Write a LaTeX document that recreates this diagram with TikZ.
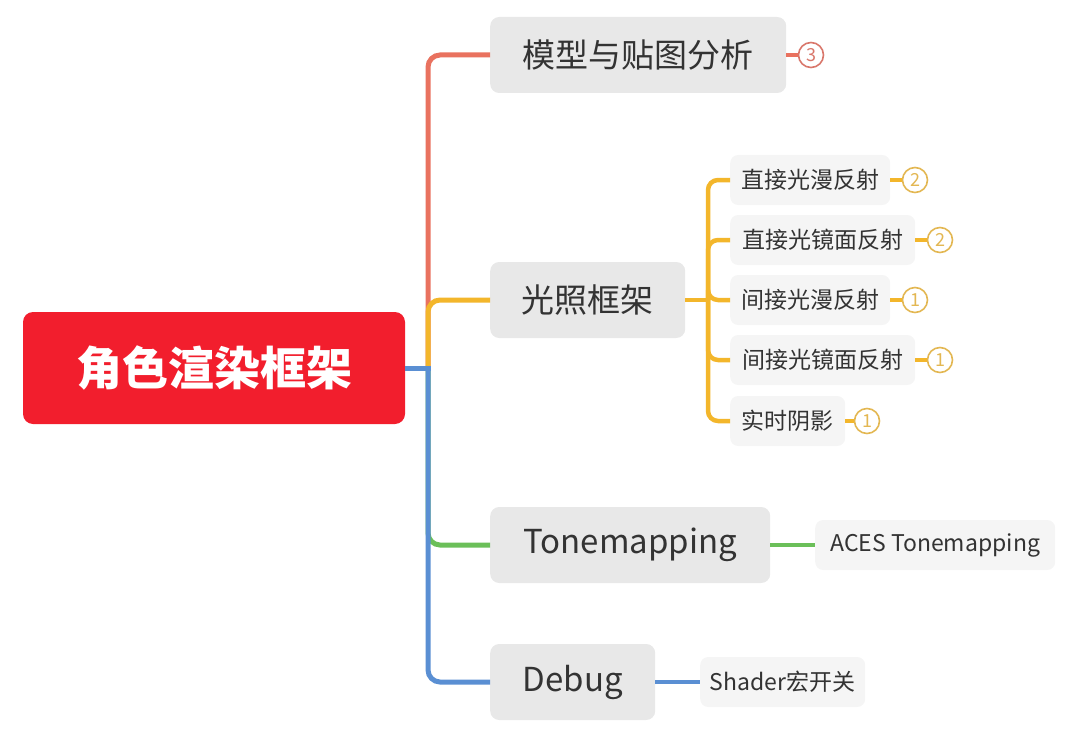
\documentclass[tikz,border=0pt]{standalone}
\usepackage{fontspec}
\setmainfont{Noto Sans CJK SC}
\usetikzlibrary{positioning}
\definecolor{rootred}{HTML}{F21E2D}
\definecolor{boxgray}{HTML}{E8E8E8}
\definecolor{subgray}{HTML}{F5F5F5}
\definecolor{textgray}{HTML}{333333}
\definecolor{linered}{HTML}{E9725F}
\definecolor{lineyellow}{HTML}{F3B62B}
\definecolor{linegreen}{HTML}{6BBF59}
\definecolor{lineblue}{HTML}{5A8FD3}
\definecolor{badgered}{HTML}{D9776B}
\definecolor{badgegold}{HTML}{E3B752}

\begin{document}
\begin{tikzpicture}[x=1pt, y=-1pt,
    mainbox/.style={fill=boxgray, rounded corners=9pt, minimum height=76pt,
      inner sep=0pt, anchor=west, text=textgray, font=\fontsize{33}{33}\selectfont},
    subbox/.style={fill=subgray, rounded corners=8pt, minimum height=50pt,
      inner sep=0pt, anchor=west, text=textgray, font=\fontsize{23}{23}\selectfont},
    badge/.style={circle, draw=#1, text=#1, fill=white, line width=1.6pt,
      minimum size=25pt, inner sep=0pt, font=\fontsize{18}{18}\selectfont},
    link/.style={draw=#1, line width=5pt, rounded corners=12pt},
    sublink/.style={draw=#1, line width=4.5pt, rounded corners=10pt}
  ]
  \useasboundingbox (0,0) rectangle (1071,733);

  % root and first level
  \node[fill=rootred, rounded corners=10pt, minimum width=382pt, minimum height=112pt,
    inner sep=0pt, text=white, font=\fontsize{46}{46}\selectfont\bfseries]
    (root) at (214,368) {角色渲染框架};
  \node[mainbox, minimum width=296pt] (model) at (490,55) {模型与贴图分析};
  \node[mainbox, minimum width=195pt] (light) at (490,300) {光照框架};
  \node[mainbox, minimum width=280pt] (tone) at (490,545) {Tonemapping};
  \node[mainbox, minimum width=165pt] (debug) at (490,682) {Debug};

  % second level
  \foreach \n/\y/\w/\t in {d1/180/160/直接光漫反射, d2/240/185/直接光镜面反射,
      d3/300/160/间接光漫反射, d4/360/185/间接光镜面反射, d5/421/115/实时阴影}
    \node[subbox, minimum width=\w pt] (\n) at (730,\y) {\t};
  \node[subbox, minimum width=240pt] (aces) at (815,545) {ACES Tonemapping};
  \node[subbox, minimum width=165pt] (shader) at (700,682) {Shader宏开关};

  % branches
  \coordinate (hub) at (428,368);
  \draw[link=linered] (hub) |- (model.west);
  \draw[link=lineyellow] (hub) |- (light.west);
  \draw[link=linegreen] (hub) |- (tone.west);
  \draw[link=lineblue] (hub) |- (debug.west);
  \draw[link=lineblue] (root.east) -- ([xshift=2.5pt]hub);

  \coordinate (lhub) at (708,300);
  \draw[sublink=lineyellow] (light.east) -- (lhub);
  \foreach \n in {d1,d2,d3,d4,d5}
    \draw[sublink=lineyellow] (lhub) |- (\n.west);
  \draw[sublink=linegreen] (tone.east) -- (aces.west);
  \draw[sublink=lineblue] (debug.east) -- (shader.west);

  % counters
  \node[badge=badgered] (bmodel) at (811,55) {3};
  \draw[sublink=linered] (model.east) -- (bmodel.west);
  \foreach \n/\x/\y/\k in {d1/915/180/2, d2/940/240/2, d3/915/300/1,
      d4/940/360/1, d5/867/421/1} {
    \node[badge=badgegold] (b\n) at (\x,\y) {\k};
    \draw[sublink=lineyellow] (\n.east) -- (b\n.west);
  }
\end{tikzpicture}
\end{document}
